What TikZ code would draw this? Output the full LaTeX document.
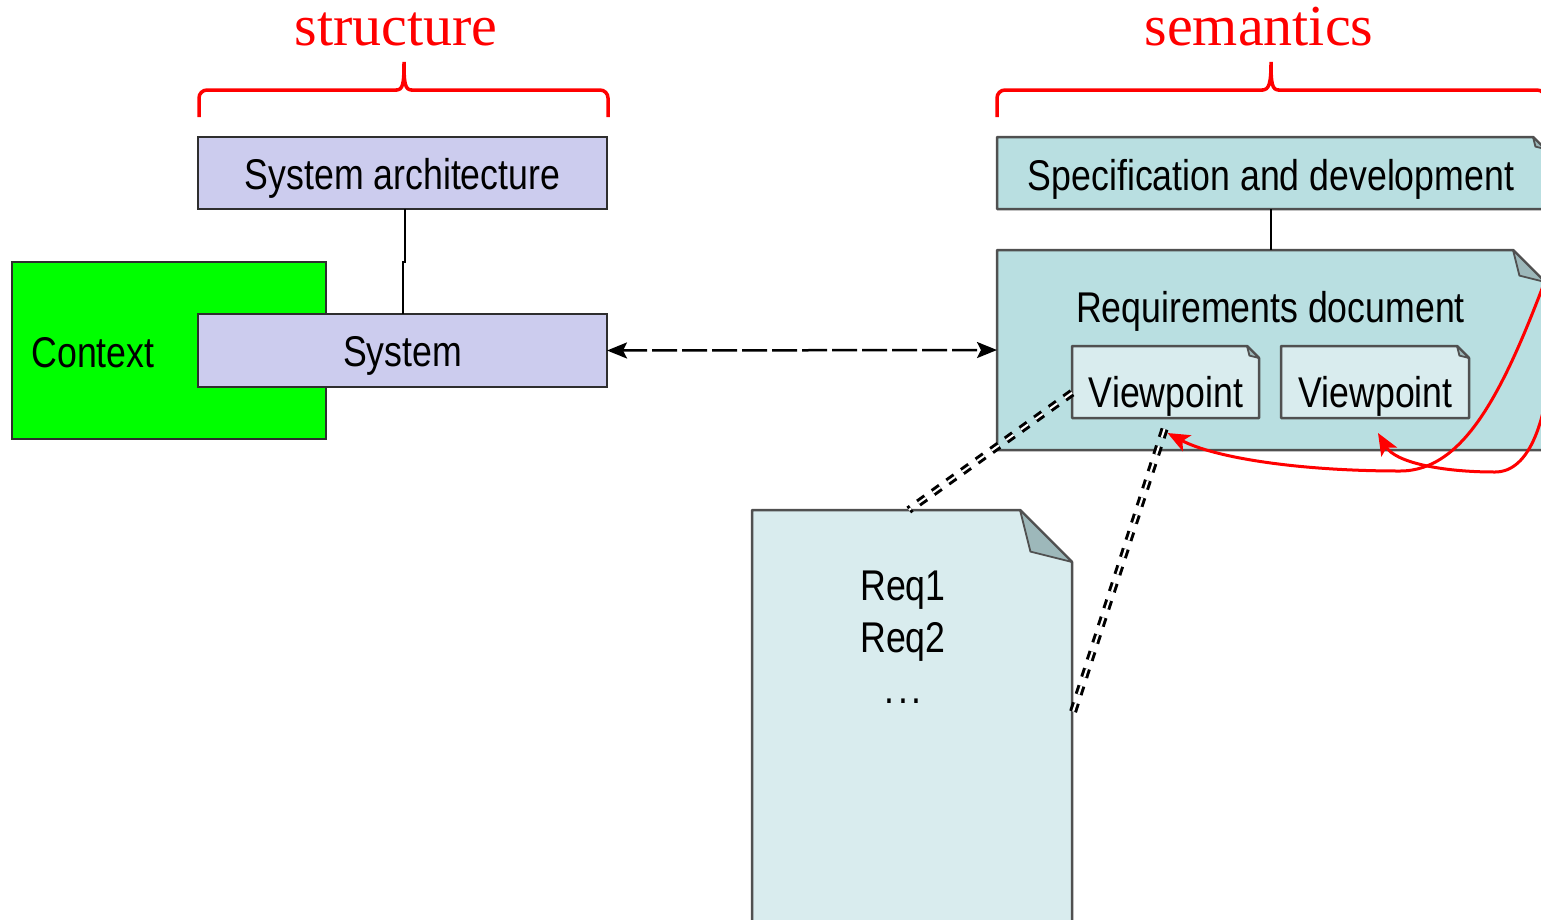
\documentclass[tikz,border=0pt]{standalone}
\usepackage{fontspec}
\setmainfont{Liberation Serif}
\newfontfamily\narrow[FakeStretch=0.83]{Liberation Sans}
\usetikzlibrary{calc,arrows.meta}
\definecolor{lav}{HTML}{CCCCEE}
\definecolor{tealA}{HTML}{B9DFE1}
\definecolor{tealB}{HTML}{D9ECEE}
\definecolor{foldc}{HTML}{9DB8BA}
\definecolor{edgec}{HTML}{2E2E2E}
\definecolor{docedge}{HTML}{505050}
\definecolor{ctxgreen}{HTML}{00FF00}
\newcommand\dogear[4]{%
  \path[draw=docedge, line width=2.5pt, fill=#3, line join=round]
    (#1.south west) -- (#1.north west) -- ([xshift=-#2]#1.north east)
    -- ([yshift=-#2]#1.north east) -- (#1.south east) -- cycle;
  \path[draw=docedge, line width=1.8pt, fill=#4, line join=round]
    ([xshift=-#2]#1.north east) -- ([xshift=-0.8*#2, yshift=-0.8*#2]#1.north east)
    -- ([yshift=-#2]#1.north east) -- cycle;}
\tikzset{
  box/.style={rectangle, inner sep=0pt, outer sep=0pt},
  plainbox/.style={box, draw=edgec, line width=2.5pt},
  docbox/.style={box, draw=none},
  lbl/.style={anchor=base, inner sep=0pt, font=\narrow\fontsize{43}{52}\selectfont},
  title/.style={anchor=base, inner sep=0pt, text=red, font=\fontsize{58}{60}\selectfont},
  brace/.style={draw=red, line width=3.5pt, rounded corners=8pt},
  link/.style={draw=black, line width=2pt},
  bothway/.style={draw=black, line width=2.5pt, dash pattern=on 25pt off 5pt,
    {Stealth[length=20pt,width=16pt,inset=4pt]}-{Stealth[length=20pt,width=16pt,inset=4pt]}},
  trace/.style={draw=black, line width=3pt, double=white, double distance=2pt,
    dash pattern=on 9pt off 9pt},
  redarrow/.style={draw=red, line width=3pt, -{Stealth[length=22pt,width=18pt,inset=5pt]}}
}
\begin{document}
\begin{tikzpicture}[x=1pt,y=-1pt]
\useasboundingbox (0,0) rectangle (1541,919);
\clip (0,0) rectangle (1541,919);
\fill[white] (0,0) rectangle (1541,919);

% titles and braces
\node[title] (tstruct) at (396,45) {structure};
\node[title] (tsem) at (1259,45) {semantics};
\draw[brace] (199,117) -- (199,90) -- (397,90);
\draw[draw=red, line width=3.5pt] (396,90) .. controls (403,90) and (404,84) .. (404,62)
  .. controls (404,84) and (405,90) .. (412,90);
\draw[brace] (411,90) -- (608,90) -- (608,117);
\draw[brace] (997,117) -- (997,90) -- (1263,90);
\draw[draw=red, line width=3.5pt] (1262,90) .. controls (1269,90) and (1271,84) .. (1271,62)
  .. controls (1271,84) and (1272,90) .. (1279,90);
\draw[brace] (1278,90) -- (1545,90) -- (1545,117);

% structure side
\node[plainbox, fill=ctxgreen, minimum width=314pt, minimum height=177pt] (context) at (169,350.5) {};
\node[lbl] (contextlbl) at (93,367) {Context};
\node[plainbox, fill=lav, minimum width=409pt, minimum height=72pt] (sysarch) at (402.5,173) {};
\node[lbl] (sysarchlbl) at (402.5,189) {System architecture};
\node[plainbox, fill=lav, minimum width=409pt, minimum height=73pt] (system) at (402.5,350.5) {};
\node[lbl] (systemlbl) at (402.5,366) {System};
\draw[link] ([xshift=2pt]sysarch.south) |- ($(sysarch.south)!0.5!(system.north)$) -| (system.north);

% semantics side
\node[docbox, minimum width=548pt, minimum height=72pt] (spec) at (1271,173) {};
\dogear{spec}{12pt}{tealA}{foldc}
\node[lbl] (speclbl) at (1271,190) {Specification and development};
\node[docbox, minimum width=548pt, minimum height=200pt] (reqdoc) at (1271,350) {};
\dogear{reqdoc}{32pt}{tealA}{foldc}
\node[lbl] (reqdoclbl) at (1270.5,322) {Requirements document};
\draw[link] (spec.south) -- (reqdoc.north);

\node[docbox, minimum width=187pt, minimum height=72pt] (vp1) at (1165.5,382) {};
\dogear{vp1}{12pt}{tealB}{foldc}
\node[lbl] (vp1lbl) at (1166,407) {Viewpoint};
\node[docbox, minimum width=188pt, minimum height=72pt] (vp2) at (1375,382) {};
\dogear{vp2}{12pt}{tealB}{foldc}
\node[lbl] (vp2lbl) at (1375.5,407) {Viewpoint};

\node[docbox, minimum width=320pt, minimum height=420pt] (reqs) at (912,720) {};
\dogear{reqs}{52pt}{tealB}{foldc}
\node[lbl] (req1) at (903,600) {Req1};
\node[lbl] (req2) at (903,652) {Req2};
\node[lbl] (reqdots) at (903,703) {.\hspace{4pt}.\hspace{4pt}.};

% connectors
\draw[bothway] (system.east) -- (reqdoc.west);
\draw[trace] ($(vp1.north west)!0.65!(vp1.south west)$) -- ($(reqs.north west)!0.49!(reqs.north east)$);
\draw[trace] ($(vp1.south)+(-1,11)$) -- ($(reqs.north east)!0.488!(reqs.south east)$);

\coordinate (ra) at (1552,262);
\coordinate (rb) at (1552,345);
\draw[redarrow] (ra) .. controls (1505,390) and (1465,471) .. (1400,471)
  .. controls (1300,471) and (1215,458) .. ($(vp1.south)+(2,15)$);
\draw[redarrow] (rb) .. controls (1548,420) and (1530,472) .. (1495,472)
  .. controls (1440,472) and (1395,462) .. ($(vp2.south)+(3,15)$);
\end{tikzpicture}
\end{document}
